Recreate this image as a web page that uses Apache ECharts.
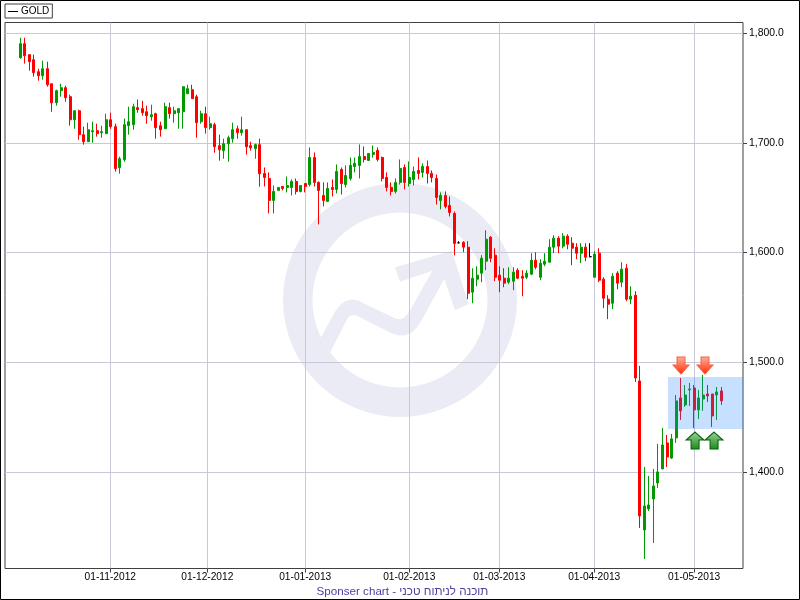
<!DOCTYPE html>
<html><head><meta charset="utf-8">
<style>html,body{margin:0;padding:0;background:#fff}#c{width:800px;height:600px}</style>
<script src="https://cdn.jsdelivr.net/npm/echarts@6/dist/echarts.min.js"></script>
</head><body><div id="c"></div>
<script>
const seriesName = 'GOLD';
const opens = [1777.5,1790.3,1780.3,1775.7,1764.8,1761.1,1767.5,1753.8,1736.5,1747.5,1750.2,1742.0,1721.0,1729.2,1707.4,1701.0,1710.1,1711.0,1709.2,1708.3,1721.0,1714.7,1677.3,1684.6,1715.6,1716.5,1732.0,1731.1,1728.3,1723.8,1726.5,1715.6,1712.8,1732.0,1726.5,1727.4,1728.3,1744.7,1748.4,1742.0,1719.2,1726.5,1713.8,1716.5,1697.4,1692.8,1699.2,1703.7,1712.8,1709.2,1711.9,1697.4,1694.6,1698.3,
1672.1,1667.5,1647.5,1656.6,1660.2,1659.3,1659.3,1664.8,1655.7,1662.9,1662.0,1686.6,1663.9,1652.0,1646.6,1659.3,1657.5,1675.7,1662.0,1667.5,1678.4,1679.4,1687.5,1683.9,1689.4,1693.0,1686.6,1668.4,1659.3,1655.7,1663.9,1677.5,1662.9,1666.6,1674.8,1673.0,1678.4,1672.1,1667.5,1647.5,1652.0,1642.9,1635.6,
1608.8,1609.4,1604.9,1563.9,1575.7,1581.2,1592.1,1614.0,1597.6,1579.4,1576.6,1573.0,1573.9,1583.9,1578.4,1577.5,1580.3,1593.0,1577.5,1589.4,1591.2,1604.9,1613.1,1605.8,1614.9,1608.5,1604.9,1599.4,1604.9,1596.2,1577.5,1599.4,1575.7,1557.5,1553.8,1581.2,1573.0,1585.7,1557.5,1561.1,
1483.0,1347.2,1366.4,1375.5,1390.1,1402.8,1426.5,1412.8,1431.1,1467.5,1461.1,1474.8,1476.6,1456.6,1466.6,1471.1,1471.1,1470.2,1473.9];
const closes = [1790.3,1779.3,1773.9,1763.9,1761.1,1767.5,1752.9,1736.5,1747.5,1750.2,1741.1,1721.0,1729.2,1707.4,1701.0,1711.9,1711.0,1708.3,1710.1,1721.0,1714.7,1676.4,1685.5,1716.5,1719.2,1732.9,1730.2,1727.4,1724.7,1725.6,1713.8,1711.9,1732.9,1726.5,1729.2,1731.1,1751.1,1749.3,1740.2,1718.3,1726.5,1713.8,1717.4,1696.4,1693.7,1699.2,1704.6,1711.9,1709.2,1711.9,1696.4,1695.5,1698.3,1671.8,
1668.4,1647.5,1655.7,1659.3,1658.4,1661.1,1664.8,1655.7,1661.1,1660.2,1686.6,1663.9,1656.6,1647.5,1658.4,1657.5,1673.9,1662.9,1670.2,1679.4,1681.2,1687.5,1684.8,1690.3,1691.2,1684.8,1667.5,1659.3,1655.7,1663.9,1676.6,1663.9,1668.4,1673.9,1672.1,1678.4,1672.1,1668.4,1650.2,1652.0,1642.0,1636.5,1608.3,
1608.8,1604.9,1562.9,1576.6,1579.4,1594.8,1612.1,1594.8,1577.5,1574.8,1572.1,1576.6,1582.1,1576.6,1576.6,1581.2,1593.0,1586.6,1590.3,1592.1,1604.9,1613.1,1605.8,1614.9,1607.6,1603.9,1599.4,1604.9,1595.7,1596.2,1598.5,1574.8,1558.4,1552.9,1578.4,1572.1,1584.8,1557.5,1560.2,1485.7,
1360.0,1369.1,1370.0,1387.3,1400.1,1424.7,1413.7,1430.2,1464.8,1455.7,1470.2,1475.7,1456.6,1467.5,1470.2,1469.3,1451.1,1473.0,1464.8];
const lows = [1776.6,1772.1,1765.7,1760.2,1756.6,1757.5,1751.1,1728.3,1733.8,1742.0,1737.4,1715.6,1712.8,1702.8,1698.3,1701.0,1700.1,1705.6,1704.6,1708.3,1712.8,1673.7,1671.8,1682.8,1707.4,1711.9,1727.4,1724.7,1717.4,1720.1,1703.7,1705.6,1712.8,1722.0,1718.3,1712.8,1712.8,1744.7,1740.2,1704.6,1717.4,1708.3,1711.9,1691.0,1683.7,1685.5,1682.8,1700.1,1703.7,1706.5,1689.2,1692.8,1685.5,1660.0,
1660.2,1635.6,1635.6,1656.6,1656.6,1654.8,1652.0,1652.9,1654.8,1654.8,1660.2,1660.2,1625.6,1642.0,1646.6,1651.1,1653.8,1652.9,1659.3,1665.7,1673.0,1667.5,1682.1,1683.9,1686.6,1683.0,1664.8,1655.7,1652.0,1653.8,1662.0,1657.5,1660.2,1661.1,1666.6,1668.4,1662.9,1663.9,1643.8,1639.3,1640.2,1632.9,1597.4,
1608.5,1600.3,1557.5,1553.8,1569.3,1573.0,1583.9,1591.2,1573.9,1563.9,1568.4,1571.2,1565.7,1575.7,1560.2,1575.7,1579.4,1584.8,1574.8,1587.5,1591.2,1599.4,1599.4,1603.9,1603.0,1588.5,1593.9,1590.3,1592.1,1595.7,1577.5,1573.0,1549.3,1539.3,1548.4,1566.6,1568.4,1555.7,1552.9,1482.1,
1349.1,1320.8,1364.5,1335.4,1385.5,1402.8,1404.6,1411.9,1426.5,1447.5,1459.3,1460.2,1440.2,1448.4,1455.7,1463.9,1441.1,1447.5,1461.1];
const highs = [1795.7,1795.7,1780.3,1780.3,1767.5,1774.8,1773.9,1753.8,1748.4,1753.8,1752.0,1743.8,1729.2,1730.2,1714.7,1718.3,1719.2,1717.4,1715.6,1726.5,1727.4,1717.4,1687.3,1722.0,1732.9,1735.6,1739.3,1738.3,1733.8,1734.7,1727.4,1719.2,1736.5,1736.5,1732.9,1731.1,1751.1,1752.9,1752.9,1743.8,1729.2,1732.9,1723.8,1718.3,1707.4,1703.7,1706.5,1718.3,1715.6,1723.8,1711.9,1701.0,1699.2,1703.7,
1677.5,1673.0,1661.1,1659.3,1660.2,1669.3,1666.6,1667.5,1661.1,1662.9,1695.8,1691.2,1664.8,1663.9,1663.9,1666.6,1680.3,1677.5,1679.4,1686.6,1686.6,1698.5,1696.7,1690.3,1697.6,1695.8,1687.5,1673.0,1663.9,1667.5,1684.8,1680.3,1683.0,1678.4,1686.6,1681.2,1683.9,1674.8,1671.1,1654.8,1655.7,1651.1,1637.4,
1610.3,1610.3,1610.3,1585.7,1587.5,1597.6,1620.3,1614.9,1603.9,1587.5,1585.7,1586.6,1586.6,1585.7,1583.9,1583.9,1599.4,1600.3,1593.9,1599.4,1612.1,1615.8,1614.9,1617.6,1616.7,1614.0,1608.5,1608.5,1608.5,1608.5,1601.2,1603.9,1577.5,1561.1,1581.2,1583.0,1591.2,1589.4,1569.3,1564.8,
1496.7,1404.6,1396.4,1402.8,1425.6,1440.2,1433.8,1434.7,1470.2,1485.7,1479.3,1481.2,1479.3,1474.8,1488.5,1479.3,1471.1,1477.5,1477.5];
// candles whose open equals close, drawn in black in the reference
const dojiIndex = [97, 126];
const tickLabels = ['01-11-2012','01-12-2012','01-01-2013','01-02-2013','01-03-2013','01-04-2013','01-05-2013'];
const tickIndex = [19.9, 41.35, 63.0, 86.0, 105.9, 126.9, 149.0];
const priceTicks = [1400, 1500, 1600, 1700, 1800];
const bandPrices = [1439.2, 1486.6];
const sellSignals = [[146.1, 1497.0], [151.4, 1497.0]];
const buySignals = [[149.2, 1428.7], [153.4, 1428.7]];

const data = opens.map((o, i) => {
  const item = { value: [i, o, closes[i], lows[i], highs[i]] };
  if (dojiIndex.includes(i)) item.itemStyle = { color: '#000', color0: '#000', borderColor: '#000', borderColor0: '#000', borderColorDoji: '#000' };
  return item;
});
const grad = (a, b) => ({ type: 'linear', x: 0, y: 0, x2: 0, y2: 1, colorStops: [{ offset: 0, color: a }, { offset: 1, color: b }] });
const downArrow = 'path://M4,0 L12,0 L12,8 L16,8 L8,17 L0,8 L4,8 Z';
const upArrow = 'path://M9,0 L18,8 L13,8 L13,17 L5,17 L5,8 L0,8 Z';
const xMin = -3.383, xMax = 159.8;
// logo outline: runs of straight points, with rounded corners as three-point curves
const q = (a, c, b) => [0, .2, .4, .6, .8, 1].map(t => [(1-t)*(1-t)*a[0]+2*t*(1-t)*c[0]+t*t*b[0], (1-t)*(1-t)*a[1]+2*t*(1-t)*c[1]+t*t*b[1]]);
const logoOutline = [[320.7,337.7], ...q([335,311.7],[347,292],[365,304]), ...q([395,318.3],[403,322],[409.3,311.7]),
  [432.3,270.7],[400,281.7],[395,267.3],[451.7,250.7],[468.7,304],[455,310],[444.3,279],
  ...q([421.7,320],[410,342],[391.7,333.3]), ...q([357.3,316],[350,313],[346.7,320]), [330,352.7]];

const chart = echarts.init(document.getElementById('c'), null, { renderer: 'canvas' });
chart.setOption({
  animation: false,
  backgroundColor: '#fff',
  title: {
    text: 'Sponser chart - תוכנה לניתוח טכני',
    left: 316.5, top: 585.5, padding: 0,
    textStyle: { color: '#4b3f9e', fontSize: 11.65, fontWeight: 'normal', fontFamily: 'Liberation Sans' }
  },
  legend: {
    left: 5, top: 4, padding: [2, 3, 1, 3], itemGap: 0, itemWidth: 10, itemHeight: 1,
    borderColor: '#404040', borderWidth: 1, borderRadius: 0,
    selectedMode: false,
    data: [{ name: seriesName, icon: 'rect', itemStyle: { color: '#000', borderWidth: 0 } }],
    textStyle: { color: '#000', fontSize: 10, lineHeight: 11, padding: [0, 0, 0, -2], fontFamily: 'Liberation Sans' }
  },
  grid: { left: 5, right: 57, top: 22.5, bottom: 31.5, show: true, borderColor: '#404040', borderWidth: 1, backgroundColor: 'transparent' },
  xAxis: {
    type: 'value', min: xMin, max: xMax,
    axisLine: { show: false, onZero: false },
    axisTick: { show: true, customValues: tickIndex, length: 4, lineStyle: { color: '#404040' } },
    splitLine: { show: true, customValues: tickIndex, lineStyle: { color: '#c8c8d8', width: 1 } },
    axisLabel: {
      customValues: tickIndex, color: '#000', fontSize: 10.2, margin: 4, fontFamily: 'Liberation Sans',
      formatter: v => tickLabels[tickIndex.indexOf(v)] ?? ''
    }
  },
  yAxis: {
    type: 'value', position: 'right', min: 1312.1, max: 1809.6, scale: true,
    axisLine: { show: false, onZero: false },
    axisTick: { show: true, customValues: priceTicks, length: 4, lineStyle: { color: '#404040' } },
    splitLine: { show: true, customValues: priceTicks, lineStyle: { color: '#c8c8d8', width: 1 } },
    axisLabel: {
      customValues: priceTicks, color: '#000', fontSize: 10.4, margin: 6, padding: [2, 0, 0, 0], fontFamily: 'Liberation Sans',
      formatter: v => v.toLocaleString('en-US', { minimumFractionDigits: 1, maximumFractionDigits: 1 })
    }
  },
  graphic: [
    { type: 'ring', silent: true, z: -5, shape: { cx: 400, cy: 300, r: 117, r0: 87.5 }, style: { fill: '#ebebf5' } },
    { type: 'polygon', silent: true, z: -5, shape: { points: logoOutline }, style: { fill: '#ebebf5' } },
    { type: 'rect', silent: true, z: 100, shape: { x: 0.5, y: 0.5, width: 799, height: 599 }, style: { fill: 'none', stroke: '#000', lineWidth: 1 } }
  ],
  series: [{
    name: seriesName, type: 'candlestick', data,
    encode: { x: 0, y: [1, 2, 3, 4] },
    barWidth: 2.5,
    itemStyle: { color: '#009900', color0: '#ff0000', borderColor: '#009900', borderColor0: '#ff0000', borderColorDoji: '#000', borderWidth: 1 },
    markArea: {
      silent: true, z: 5,
      itemStyle: { color: 'rgba(30,130,255,0.25)', borderWidth: 0 },
      data: [[{ coord: [143.2, bandPrices[1]] }, { coord: [xMax, bandPrices[0]] }]]
    },
    markPoint: {
      silent: true, z: 6, label: { show: false },
      data: [
        ...sellSignals.map(c => ({ coord: c, symbol: downArrow, symbolSize: [16, 17], symbolKeepAspect: false, itemStyle: { color: grad('#ffb0a0', '#ff2a00'), borderColor: '#f06040', borderWidth: 1 } })),
        ...buySignals.map(c => ({ coord: c, symbol: upArrow, symbolSize: [18, 17], symbolKeepAspect: false, itemStyle: { color: grad('#9fd09f', '#1a8a1a'), borderColor: '#006400', borderWidth: 1 } }))
      ]
    }
  }]
});
</script></body></html>
